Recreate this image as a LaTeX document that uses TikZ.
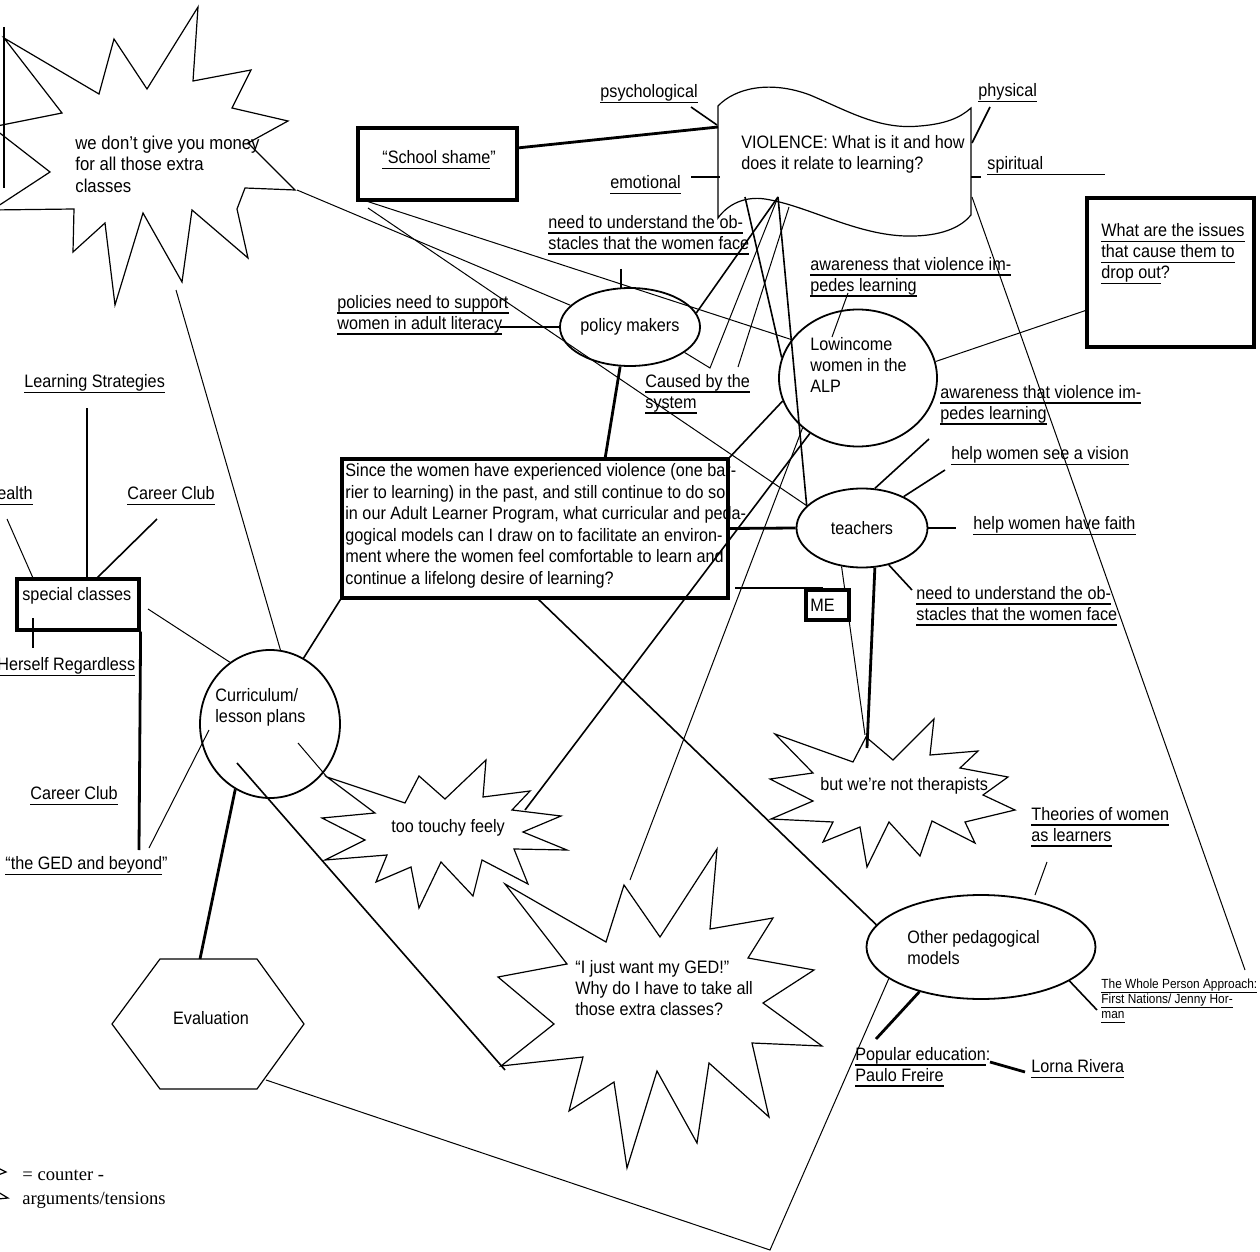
\documentclass[tikz,border=0pt]{standalone}
\usepackage{fontspec}
\setmainfont{Liberation Sans}[FakeStretch=0.9]
\newfontfamily\legendfont{Liberation Serif}
\usetikzlibrary{shapes.geometric}
\newcommand\myfs{\fontsize{9}{10.5}\selectfont}
\newcommand\myul[1]{\setbox0\hbox{#1}\rlap{\rule[-0.29em]{\wd0}{0.09em}}\box0}
\begin{document}
\begin{tikzpicture}[x=0.5pt,y=-0.5pt,
  thinl/.style={line width=0.5pt},
  midl/.style={line width=0.8pt},
  thickl/.style={line width=1.4pt},
  starl/.style={line width=0.6pt, line join=miter},
  ell/.style={draw, ellipse, line width=0.9pt, inner sep=0pt},
  boxx/.style={draw, rectangle, line width=1.6pt, inner sep=0pt},
  lbl/.style={inner sep=0pt, anchor=west, align=left, font=\myfs},
  ctr/.style={inner sep=0pt, align=center, font=\myfs}]
\fill[white] (0,0) rectangle (1260,1252);
\useasboundingbox (0,0) rectangle (1260,1252);

% ---------- shapes ----------
% star 1 (top left)
\draw[starl] (4,38) -- (99,94) -- (114,39) -- (147,89) -- (198,7) -- (193,81) -- (251,70) -- (232,108) -- (288,121) -- (248,143) -- (295,190) -- (245,188) -- (237,209) -- (248,258) -- (192,210) -- (182,282) -- (143,213) -- (115,305) -- (105,223) -- (73,252) -- (74,209) -- (-8,210) -- (50,172) -- (-8,127) -- (62,113) -- cycle;
% touchy star
\draw[starl] (327,777) -- (405,803) -- (419,776) -- (445,799) -- (486,760) -- (483,797) -- (530,791) -- (512,810) -- (561,816) -- (523,832) -- (567,850) -- (514,849) -- (528,884) -- (482,860) -- (473,896) -- (441,862) -- (419,908) -- (411,867) -- (376,882) -- (387,855) -- (325,860) -- (365,840) -- (322,818) -- (375,813) -- cycle;
% GED star
\draw[starl] (505,884) -- (606,942) -- (624,885) -- (660,937) -- (717,849) -- (710,929) -- (773,918) -- (748,958) -- (814,970) -- (763,1003) -- (822,1046) -- (752,1043) -- (769,1117) -- (709,1063) -- (697,1143) -- (657,1071) -- (627,1168) -- (614,1082) -- (569,1111) -- (583,1057) -- (501,1066) -- (554,1024) -- (498,977) -- (567,964) -- cycle;
% therapists star
\draw[starl] (775,734) -- (853,762) -- (866,737) -- (893,760) -- (934,719) -- (930,755) -- (978,751) -- (960,768) -- (1008,777) -- (983,795) -- (1015,810) -- (965,822) -- (975,843) -- (932,821) -- (920,856) -- (889,822) -- (867,867) -- (860,827) -- (823,842) -- (833,822) -- (771,819) -- (813,801) -- (770,779) -- (813,773) -- cycle;
% violence flag
\draw[starl] (718,106) .. controls (735,88) and (770,80) .. (810,95) .. controls (850,112) and (880,130) .. (920,126) .. controls (945,124) and (960,118) .. (971,108) -- (971,215) .. controls (962,226) and (945,235) .. (915,236) .. controls (860,238) and (810,206) .. (765,199) .. controls (745,196) and (728,204) .. (718,218) -- cycle;
% evaluation hexagon
\draw[starl] (160,959) -- (257,959) -- (304,1024) -- (257,1089) -- (160,1089) -- (112,1024) -- cycle;

% boxes
\node[boxx, minimum width=79.5pt, minimum height=36pt] (ss) at (437.5,164) {};
\node[boxx, minimum width=193pt, minimum height=69.5pt] (qb) at (535,528.5) {};
\node[boxx, minimum width=83.5pt, minimum height=74.5pt] (wi) at (1170.5,272.5) {};
\node[boxx, minimum width=61pt, minimum height=25.5pt] (sc) at (78,604.5) {};
% ellipses
\node[ell, minimum width=60pt, minimum height=39pt, font=\myfs] (pm) at (630,327) {policy makers};
\node[ell, minimum width=79pt, minimum height=68.5pt] (li) at (858,378) {};
\node[ell, minimum width=65.5pt, minimum height=39.5pt, font=\myfs] (te) at (862,528) {teachers};
\node[ell, minimum width=114.5pt, minimum height=52pt] (op) at (981,947) {};
\node[ell, minimum width=70pt, minimum height=74pt] (cu) at (270,724) {};

% flag attachment points
\coordinate (fL) at (718,127);
\coordinate (fpsy) at (717,125);
\coordinate (femo) at (720,177);
\coordinate (fphy) at (972,143);
\coordinate (fspi) at (971,177);
\coordinate (fR) at (972,197);
\coordinate (fB1) at (778,197);
\coordinate (fB2) at (789,207);
\coordinate (fB3) at (745,197);

% ---------- connectors ----------
\draw[thickl] (517,148) -- (fL);
\draw[midl] (691,107) -- (fpsy);
\draw[thickl] (691,177) -- (femo);
\draw[midl] (990,107) -- (fphy);
\draw[thickl] (fspi) -- (981,177);
\draw[thinl] (fR) -- (1245,970);
\draw[midl] (fB1) -- (pm.12);
\draw[thinl] (fB1) -- (710,368) -- (pm.-25);
\draw[thinl] (fB2) -- (738,367);
\draw[midl] (fB1) -- (te.158);
\draw[midl] (fB3) -- (li.165);
\draw[thickl] (621,269) -- (621,288);
\draw[thickl] (500,327) -- (pm.west);
\draw[thinl] (363,200) -- (li.150);
\draw[thinl] (368,208) -- (te.158);
\draw[thinl] (297,190) -- (pm.160);
\draw[thinl] (176,290) -- (cu.82);
\draw[thickl] (pm.-104) -- (605,459);
\draw[thinl] (848,293) -- (832,337);
\draw[thinl] (li.12) -- (1087,310);
\draw[midl] (li.197) -- (qb.north east);
\draw[thinl] (li.222) -- (630,880);
\draw[midl] (li.229) -- (525,810);
\draw[thickl] (qb.east) -- (te.west);
\draw[thickl] (te.east) -- (956,528);
\draw[midl] (te.37) -- (945,470);
\draw[midl] (te.72) -- (929,439);
\draw[midl] (te.-54) -- (912,590);
\draw[thickl] (te.-72) -- (867,748);
\draw[thinl] (te.-118) -- (865,735);
\draw[thickl] (735,588) -- (823,588);
\draw[midl] (qb.south west) -- (cu.63);
\draw[midl] (537,598) -- (op.168);
\draw[thinl] (148,609) -- (cu.123);
\draw[thinl] (209,730) -- (149,848);
\draw[thickl] (cu.-118) -- (200,959);
\draw[midl] (237,763) -- (505,1070);
\draw[thinl] (298,743) -- (327,777);
\draw[thinl] (266,1080) -- (770,1250) -- (op.199);
\draw[thinl] (1047,862) -- (1035,895);
\draw[thickl] (op.216) -- (876,1039);
\draw[thickl] (990,1062) -- (1025,1072);
\draw[midl] (op.-21) -- (1097,1010);
\draw[thickl] (87,408) -- (87,577);
\draw[thinl] (7,519) -- (33,578);
\draw[midl] (157,519) -- (97,578);
\draw[thickl] (33,618) -- (33,648);
\draw[thickl] (sc.south east) -- (139,850);
\draw[thickl] (4,27) -- (4,188);
% legend marks
\draw[starl] (-2,1168) -- (6,1172) -- (-2,1175);
\draw[starl] (-2,1192) -- (8,1198) -- (-2,1199);

\node[boxx, fill=white, minimum width=21.5pt, minimum height=15pt] (me) at (827.5,605) {};

% ---------- texts ----------
\node[lbl, font=\fontsize{9.3}{10.8}\selectfont] (s1t) at (75,164) {we don’t give you money\\for all those extra\\classes};
\node[lbl] (sst) at (382,160) {\myul{“School shame}”};
\node[lbl] (psy) at (600,94) {\myul{psychological}};
\node[lbl] (phy) at (978,93) {\myul{physical}};
\node[lbl] (emo) at (610,185) {\myul{emotional}};
\node[lbl] (spi) at (987,166) {\myul{spiritual\hspace{31pt}}};
\node[lbl] (vt) at (741,154) {VIOLENCE: What is it and how\\does it relate to learning?};
\node[lbl] (nu1) at (548,235) {\myul{need to understand the ob-}\\\myul{stacles that the women face}};
\node[lbl] (pol) at (337,315) {\myul{policies need to support}\\\myul{women in adult literacy}};
\node[lbl] (aw1) at (810,277) {\myul{awareness that violence im-}\\\myul{pedes learning}};
\node[lbl] (cbs) at (645,394) {\myul{Caused by the}\\\myul{system}};
\node[lbl] (lit) at (810,365) {Lowincome\\women in the\\ALP};
\node[lbl] (aw2) at (940,405) {\myul{awareness that violence im-}\\\myul{pedes learning}};
\node[lbl] (wit) at (1101,254) {\myul{What are the issues}\\\myul{that cause them to}\\\myul{drop out}?};
\node[lbl] (hv) at (951,456) {\myul{help women see a vision}};
\node[lbl] (hf) at (973,526) {\myul{help women have faith}};
\node[lbl] (nu2) at (916,606) {\myul{need to understand the ob-}\\\myul{stacles that the women face}};
\node[lbl, font=\fontsize{9}{10.75}\selectfont] (qbt) at (345,526) {Since the women have experienced violence (one bar-\\rier to learning) in the past, and still continue to do so\\in our Adult Learner Program, what curricular and peda-\\gogical models can I draw on to facilitate an environ-\\ment where the women feel comfortable to learn and\\continue a lifelong desire of learning?};
\node[lbl] (met) at (810,605) {ME};
\node[lbl] (ls) at (24,384) {\myul{Learning Strategies}};
\node[lbl, anchor=east] (hl) at (33,496) {\myul{Health}};
\node[lbl] (cc1) at (127,496) {\myul{Career Club}};
\node[lbl] (sct) at (22,596) {special classes};
\node[lbl] (hr) at (-3,667) {\myul{Herself Regardless}};
\node[lbl] (cc2) at (30,796) {\myul{Career Club}};
\node[lbl] (ged) at (5,866) {\myul{“the GED and beyond}”};
\node[lbl] (cut) at (215,707) {Curriculum/\\lesson plans};
\node[ctr] (evt) at (211,1018) {Evaluation};
\node[ctr] (tt) at (448,828) {too touchy feely};
\node[lbl] (gedt) at (575,988) {“I just want my GED!”\\Why do I have to take all\\those extra classes?};
\node[lbl] (tht) at (820,786) {but we're not therapists};
\node[lbl] (thy) at (1031,827) {\myul{Theories of women}\\\myul{as learners}};
\node[lbl] (opt) at (907,948) {Other pedagogical\\models};
\node[lbl] (pe) at (855,1067) {\myul{Popular education}:\\\myul{Paulo Freire}};
\node[lbl] (lr) at (1031,1069) {\myul{Lorna Rivera}};
\node[lbl, font=\fontsize{6.6}{7.5}\selectfont] (wp) at (1101,1001) {\myul{The Whole Person Approach:}\\\myul{First Nations/ Jenny Hor-}\\\myul{man}};
\node[lbl, font=\legendfont\fontsize{9.3}{11}\selectfont] (lg1) at (22,1175) {= counter -};
\node[lbl, font=\legendfont\fontsize{9.3}{11}\selectfont] (lg2) at (22,1200) {arguments/tensions};
\end{tikzpicture}
\end{document}
